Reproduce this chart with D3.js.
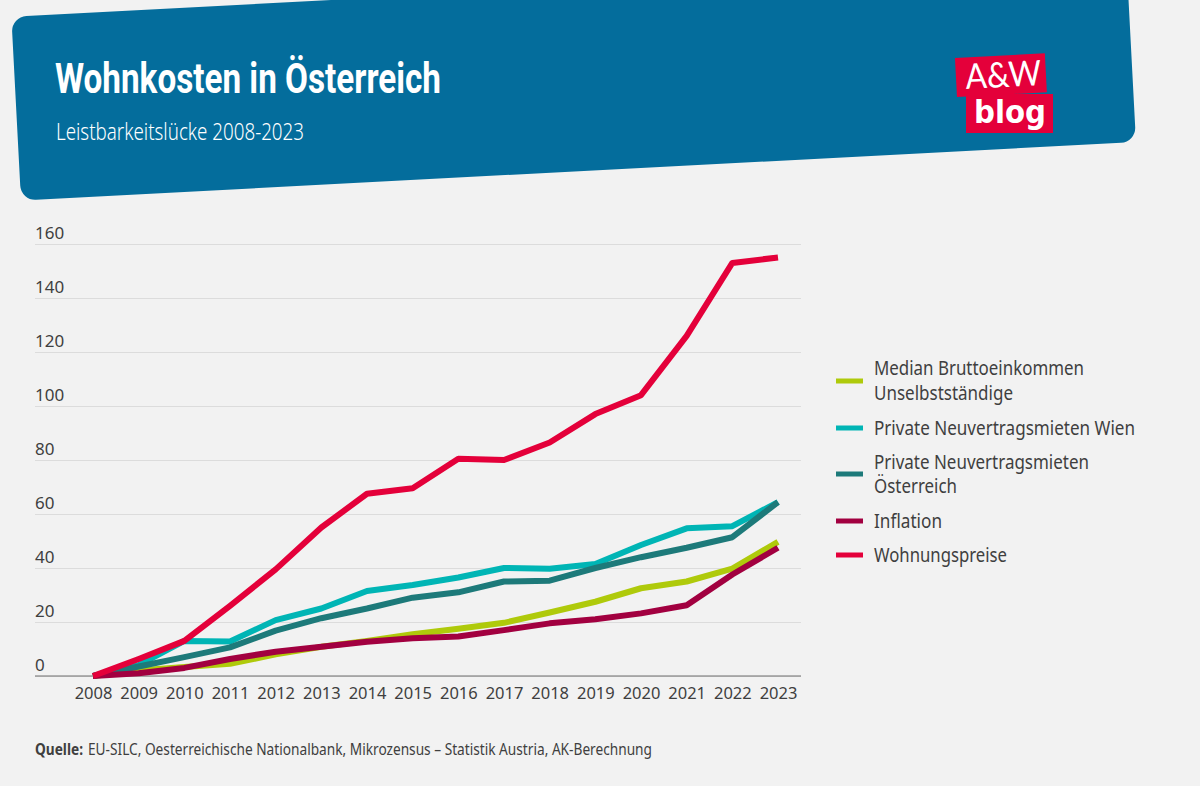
<!DOCTYPE html>
<html>
<head>
<meta charset="utf-8">
<script src="https://cdn.jsdelivr.net/npm/d3@7"></script>
<style>
  html, body { margin: 0; padding: 0; background: #f2f2f2; }
  svg { display: block; font-family: "Noto Sans", sans-serif; }
</style>
</head>
<body>
<svg id="chart"></svg>
<script>
const years = [2008, 2009, 2010, 2011, 2012, 2013, 2014, 2015, 2016, 2017, 2018, 2019, 2020, 2021, 2022, 2023];
const yTicks = [0, 20, 40, 60, 80, 100, 120, 140, 160];

const einkommen = [0, 2, 3.3, 4.5, 8, 10.8, 13, 15.5, 17.5, 19.7, 23.5, 27.5, 32.5, 35, 39.8, 49.7];
const mietenWien = [0, 4, 13, 12.8, 20.7, 25, 31.5, 33.7, 36.5, 40, 39.7, 41.5, 48.5, 54.7, 55.5, 64.4];
const mietenOesterreich = [0, 3.5, 7, 10.6, 16.8, 21.4, 25, 29, 31, 35, 35.3, 40, 44, 47.5, 51.4, 64.4];
const inflation = [0, 1, 3, 6.3, 9, 10.8, 12.7, 14, 14.6, 17, 19.5, 21, 23.2, 26.2, 37.6, 47.5];
const wohnungspreise = [0, 6.3, 13, 26, 39.5, 55, 67.5, 69.5, 80.5, 80, 86.5, 97, 104, 126, 153, 155];

const seriesNames = [
  ["Median Bruttoeinkommen", "Unselbstständige"],
  ["Private Neuvertragsmieten Wien"],
  ["Private Neuvertragsmieten", "Österreich"],
  ["Inflation"],
  ["Wohnungspreise"]
];
const seriesValues = [einkommen, mietenWien, mietenOesterreich, inflation, wohnungspreise];
const seriesColors = ["#afca0b", "#00b5b5", "#1d7a7a", "#a20040", "#e4003a"];

const width = 1200;
const height = 786;
const textColor = "#3f3f3f";

const svg = d3.select("#chart").attr("width", width).attr("height", height);

// stretch a text to the width it has in the original (the original font is not installed)
function fit(sel, w) {
  sel.attr("textLength", w).attr("lengthAdjust", "spacingAndGlyphs");
  return sel;
}

// banner
svg.append("rect")
  .attr("x", 21)
  .attr("y", 200.5 - 184)
  .attr("width", 1116.5)
  .attr("height", 184)
  .attr("rx", 15)
  .attr("transform", "rotate(-3 21 200.5)")
  .attr("fill", "#046d9c");

fit(svg.append("text")
  .attr("x", 55).attr("y", 93)
  .attr("fill", "#fff")
  .attr("font-family", "'Liberation Sans Narrow', Roboto, sans-serif")
  .attr("font-weight", 700)
  .attr("font-size", 42)
  .text("Wohnkosten in Österreich"), 386);

fit(svg.append("text")
  .attr("x", 56).attr("y", 140)
  .attr("fill", "#fff")
  .attr("font-size", 23)
  .attr("font-weight", 300)
  .text("Leistbarkeitslücke 2008-2023"), 248);

// logo
const logo = svg.append("g");
logo.append("rect")
  .attr("x", 957).attr("y", 58).attr("width", 90).attr("height", 39)
  .attr("transform", "rotate(-3 957 97)")
  .attr("fill", "#e4003a");
logo.append("rect")
  .attr("x", 966).attr("y", 94).attr("width", 87).attr("height", 39)
  .attr("fill", "#e4003a");
fit(logo.append("text")
  .attr("x", 966).attr("y", 89)
  .attr("transform", "rotate(-3 966 89)")
  .attr("fill", "#fff")
  .attr("font-family", "Lato, sans-serif")
  .attr("font-weight", 400)
  .attr("font-size", 35)
  .text("A&W"), 76);
fit(logo.append("text")
  .attr("x", 974).attr("y", 123)
  .attr("fill", "#fff")
  .attr("font-family", "'DejaVu Sans', sans-serif")
  .attr("font-weight", 700)
  .attr("font-size", 32)
  .text("blog"), 72);

// chart
const x = d3.scalePoint().domain(years).range([93, 778]);
const y = d3.scaleLinear().domain([0, 160]).range([676, 244]);

const gridLeft = 35;
const gridRight = 801;

const yAxis = svg.append("g")
  .attr("transform", `translate(${gridLeft},0)`)
  .call(d3.axisRight(y).tickValues(yTicks).tickSize(gridRight - gridLeft).tickFormat(d3.format("d")));
yAxis.select(".domain").remove();
yAxis.selectAll(".tick line").attr("stroke", "#dcdcdc").attr("stroke-width", 1);
yAxis.selectAll(".tick text")
  .attr("x", 0)
  .attr("dy", -6)
  .attr("text-anchor", "start")
  .attr("fill", textColor)
  .style("font-family", "'Noto Sans', sans-serif")
  .style("font-size", "17px");

const xAxis = svg.append("g")
  .attr("transform", `translate(0,${y(0)})`)
  .call(d3.axisBottom(x).tickSize(0).tickPadding(11).tickFormat(d3.format("d")));
xAxis.select(".domain")
  .attr("d", `M${gridLeft},0H${gridRight}`)
  .attr("stroke", "#6e6e6e")
  .attr("stroke-width", 1.2);
xAxis.selectAll(".tick text")
  .attr("fill", textColor)
  .style("font-family", "'Noto Sans', sans-serif")
  .style("font-size", "16.5px");

const line = d3.line()
  .x((d, i) => x(years[i]))
  .y(d => y(d));

svg.append("g")
  .selectAll("path")
  .data(seriesValues)
  .enter()
  .append("path")
  .attr("d", line)
  .attr("fill", "none")
  .attr("stroke", (d, i) => seriesColors[i])
  .attr("stroke-width", 6)
  .attr("stroke-linejoin", "round");

// legend
const legendRows = [[381, [368, 393], [210, 139]], [428, [428], [261]], [474, [462, 486], [215, 83]], [521, [521], [68]], [555, [555], [133]]];
const legend = svg.append("g");
seriesNames.forEach((lines, i) => {
  const [keyY, textYs, widths] = legendRows[i];
  legend.append("line")
    .attr("x1", 836).attr("x2", 863)
    .attr("y1", keyY).attr("y2", keyY)
    .attr("stroke", seriesColors[i])
    .attr("stroke-width", 5);
  lines.forEach((t, j) => {
    fit(legend.append("text")
      .attr("x", 874).attr("y", textYs[j] + 6.5)
      .attr("fill", textColor)
      .attr("font-size", 19)
      .text(t), widths[j]);
  });
});

// source
fit(svg.append("text")
  .attr("x", 35).attr("y", 755)
  .attr("fill", textColor)
  .attr("font-size", 16)
  .attr("font-weight", 700)
  .text("Quelle:"), 48);
fit(svg.append("text")
  .attr("x", 88).attr("y", 755)
  .attr("fill", textColor)
  .attr("font-size", 16)
  .text("EU-SILC, Oesterreichische Nationalbank, Mikrozensus – Statistik Austria, AK-Berechnung"), 564);
</script>
</body>
</html>
